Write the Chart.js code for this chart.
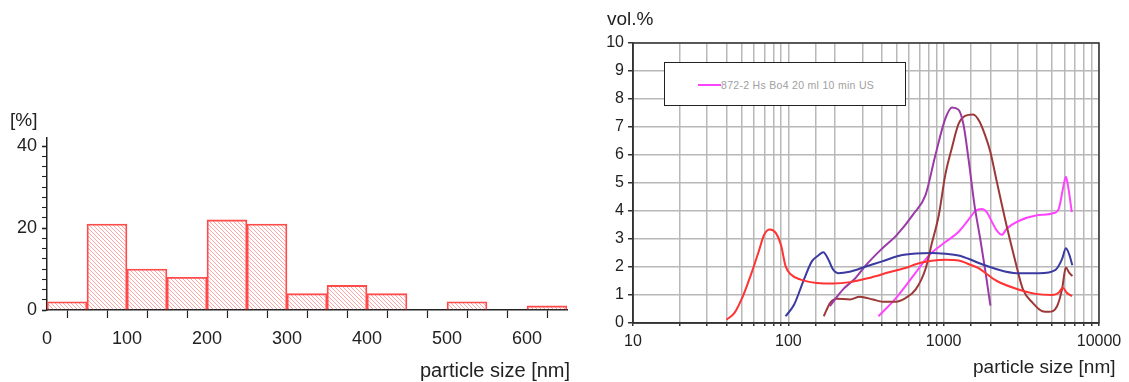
<!DOCTYPE html>
<html>
<head>
<meta charset="utf-8">
<script src="https://cdn.jsdelivr.net/npm/chart.js@4/dist/chart.umd.min.js"></script>
<style>
  body{margin:0;background:#fff;font-family:"Liberation Sans",Arial,sans-serif;color:#222;}
  #wrap{position:relative;width:1129px;height:382px;overflow:hidden;}
  .cv{position:absolute;top:0;}
  .lbl{position:absolute;white-space:nowrap;line-height:1;}
  #legend{position:absolute;left:664px;top:62px;width:240px;height:42px;border:1.5px solid #222;background:#fff;}
  #legend .ln{position:absolute;left:33px;top:21px;width:23px;height:2px;background:#ff44ff;}
  #legend .tx{position:absolute;left:56px;top:16px;font-size:10.5px;letter-spacing:0.3px;color:#a0a0a0;white-space:nowrap;}
</style>
</head>
<body>
<div id="wrap">
  <div class="cv" style="left:0;width:590px;height:382px"><canvas id="hist"></canvas></div>
  <div class="cv" style="left:580px;width:549px;height:382px"><canvas id="psd"></canvas></div>
  <div class="lbl" style="left:10px;top:110px;font-size:19px">[%]</div>
  <div class="lbl" style="left:420px;top:360px;font-size:20px">particle size [nm]</div>
  <div class="lbl" style="left:607px;top:9px;font-size:19px">vol.%</div>
  <div class="lbl" style="left:973px;top:357px;font-size:19px">particle size [nm]</div>
  <div id="legend"><div class="ln"></div><div class="tx">872-2 Hs Bo4 20 ml 10 min US</div></div>
</div>
<script>
// histogram (left)
const binStart = [0, 50, 100, 150, 200, 250, 300, 350, 400, 450, 500, 550, 600];
const binPct   = [2, 21, 10, 8, 22, 21, 4, 6, 4, 0, 2, 0, 1];
const histXTicks = [0, 50, 100, 150, 200, 250, 300, 350, 400, 450, 500, 550, 600, 650];
const histYTicks = [0, 2.5, 5, 7.5, 10, 12.5, 15, 17.5, 20, 22.5, 25, 27.5, 30, 32.5, 35, 37.5, 40];

// size distributions (right), x in nm, y in vol.%
const redX = [40, 45, 51, 58, 64, 70, 76, 83, 90, 96, 104, 120, 153, 195, 250, 330, 445, 595, 660, 840, 1025, 1250, 1500, 1650, 2200, 3100, 3900, 5000, 5500, 5850, 6200, 6700];
const redY = [0.12, 0.36, 0.96, 1.79, 2.5, 3.16, 3.34, 3.22, 2.75, 2.03, 1.73, 1.55, 1.43, 1.41, 1.46, 1.61, 1.81, 2.0, 2.1, 2.22, 2.26, 2.23, 2.07, 1.98, 1.5, 1.18, 1.04, 1.0, 1.08, 1.26, 1.08, 0.96];

const blueX = [96, 109, 126, 142, 156, 168, 181, 194, 209, 248, 316, 402, 517, 661, 843, 1025, 1245, 1513, 1650, 2200, 2950, 4120, 5250, 5780, 6120, 6420, 6740];
const blueY = [0.24, 0.66, 1.55, 2.21, 2.41, 2.53, 2.27, 1.91, 1.78, 1.83, 2.02, 2.2, 2.4, 2.48, 2.5, 2.47, 2.41, 2.25, 2.16, 1.92, 1.78, 1.78, 1.9, 2.28, 2.67, 2.46, 2.06];

const purpleX = [185, 225, 270, 320, 400, 500, 640, 764, 885, 1025, 1130, 1245, 1340, 1450, 1580, 1720, 1850, 2000];
const purpleY = [0.6, 1.2, 1.6, 2.1, 2.65, 3.15, 3.9, 4.57, 6.0, 7.3, 7.7, 7.62, 7.1, 5.8, 4.2, 3.0, 1.9, 0.62];

const brownX = [169, 186, 205, 249, 288, 350, 405, 493, 571, 661, 764, 843, 930, 1025, 1130, 1245, 1373, 1550, 1700, 1850, 2000, 2200, 2540, 2870, 3240, 3740, 4320, 4750, 5370, 5780, 6120, 6420, 6740];
const brownY = [0.24, 0.72, 0.87, 0.84, 0.94, 0.84, 0.76, 0.76, 0.9, 1.2, 1.93, 2.89, 3.85, 5.3, 6.26, 7.1, 7.4, 7.45, 7.2, 6.7, 6.1, 5.04, 3.48, 2.28, 1.2, 0.72, 0.42, 0.4, 0.6, 1.2, 1.98, 1.8, 1.68];

const pinkX = [380, 490, 655, 803, 1025, 1245, 1450, 1600, 1760, 1900, 2050, 2200, 2370, 2540, 3090, 3930, 5130, 5510, 5920, 6120, 6360, 6680];
const pinkY = [0.24, 0.87, 1.77, 2.41, 2.89, 3.25, 3.7, 4.0, 4.07, 3.95, 3.6, 3.3, 3.15, 3.36, 3.66, 3.84, 3.93, 4.08, 4.92, 5.22, 4.8, 3.96];

const FONT = '"Liberation Sans", Arial, sans-serif';
const INK = '#222';

function hatch(color){
  const n = 4;
  const c = document.createElement('canvas');
  c.width = c.height = n;
  const g = c.getContext('2d');
  g.strokeStyle = color;
  g.lineWidth = 0.9;
  g.beginPath();
  g.moveTo(0, 0); g.lineTo(n, n);
  g.moveTo(-1, n - 1); g.lineTo(1, n + 1);
  g.moveTo(n - 1, -1); g.lineTo(n + 1, 1);
  g.stroke();
  return g.createPattern(c, 'repeat');
}

const pts = (xs, ys) => xs.map((x, i) => ({x, y: ys[i]}));
const asTicks = vals => vals.map(v => ({value: v}));

// left: histogram
new Chart(document.getElementById('hist'), {
  type: 'bar',
  data: {
    datasets: [{
      data: binStart.map((b, i) => ({x: b + 25, y: binPct[i]})),
      backgroundColor: hatch('rgba(255,90,90,0.6)'),
      borderColor: '#ff4a4a',
      borderWidth: 1.2,
      borderSkipped: 'bottom',
      barPercentage: 1,
      categoryPercentage: 1
    }]
  },
  options: {
    responsive: true,
    maintainAspectRatio: false,
    animation: false,
    events: [],
    layout: { padding: { left: 0, top: 138, right: 23, bottom: 0 } },
    plugins: { legend: { display: false }, tooltip: { enabled: false } },
    scales: {
      x: {
        type: 'linear', min: 0, max: 650, offset: false,
        afterFit: s => { s.height = 72; },
        afterBuildTicks: s => { s.ticks = asTicks(histXTicks); },
        border: { color: INK, width: 1.5 },
        grid: { drawOnChartArea: false, tickLength: 8, tickColor: INK, tickWidth: 1.2 },
        ticks: { autoSkip: false, maxRotation: 0, padding: 10, color: INK,
                 font: { family: FONT, size: 18 },
                 callback: v => v % 100 === 0 ? v : '' }
      },
      y: {
        min: 0, max: 42,
        afterFit: s => { s.width = 47; },
        afterBuildTicks: s => { s.ticks = asTicks(histYTicks); },
        border: { color: INK, width: 1.5 },
        grid: { drawOnChartArea: false, tickLength: 5, tickColor: INK,
                tickWidth: c => c.tick && c.tick.value % 20 === 0 ? 1.6 : 1.1 },
        ticks: { autoSkip: false, padding: 5, color: INK, font: { family: FONT, size: 18 },
                 callback: v => v % 20 === 0 ? v : '' }
      }
    }
  }
});

// right: log-scale distributions
const frame = {
  id: 'frame',
  afterDraw(chart){
    const a = chart.chartArea, c = chart.ctx;
    c.save();
    c.strokeStyle = '#333';
    c.lineWidth = 1.5;
    c.strokeRect(a.left, a.top, a.right - a.left, a.bottom - a.top);
    c.restore();
  }
};

const line = (xs, ys, color) => ({
  data: pts(xs, ys), borderColor: color, borderWidth: 2,
  pointRadius: 0, fill: false, cubicInterpolationMode: 'monotone'
});

new Chart(document.getElementById('psd'), {
  type: 'line',
  data: {
    datasets: [
      line(redX, redY, '#ff3333'),
      line(blueX, blueY, '#3a3aa0'),
      line(purpleX, purpleY, '#9a3aa6'),
      line(brownX, brownY, '#9c3838'),
      line(pinkX, pinkY, '#ff44ff')
    ]
  },
  options: {
    responsive: true,
    maintainAspectRatio: false,
    animation: false,
    events: [],
    layout: { padding: { left: 0, top: 43, right: 30, bottom: 0 } },
    plugins: { legend: { display: false }, tooltip: { enabled: false } },
    scales: {
      x: {
        type: 'logarithmic', min: 10, max: 10000,
        afterFit: s => { s.height = 59; },
        border: { color: '#333', width: 1.5 },
        grid: { color: '#b8b8b8', lineWidth: 1.5, tickLength: 3, tickColor: '#333' },
        ticks: { autoSkip: false, maxRotation: 0, padding: 6, color: INK,
                 font: { family: FONT, size: 16 },
                 callback: v => Number.isInteger(Math.log10(v)) ? String(v) : '' }
      },
      y: {
        min: 0, max: 10,
        afterFit: s => { s.width = 53; },
        border: { color: '#333', width: 1.5 },
        grid: { color: '#b8b8b8', lineWidth: 1.5, tickLength: 5, tickColor: '#333' },
        ticks: { stepSize: 1, padding: 4, color: INK, font: { family: FONT, size: 16 } }
      }
    }
  },
  plugins: [frame]
});
</script>
</body>
</html>
